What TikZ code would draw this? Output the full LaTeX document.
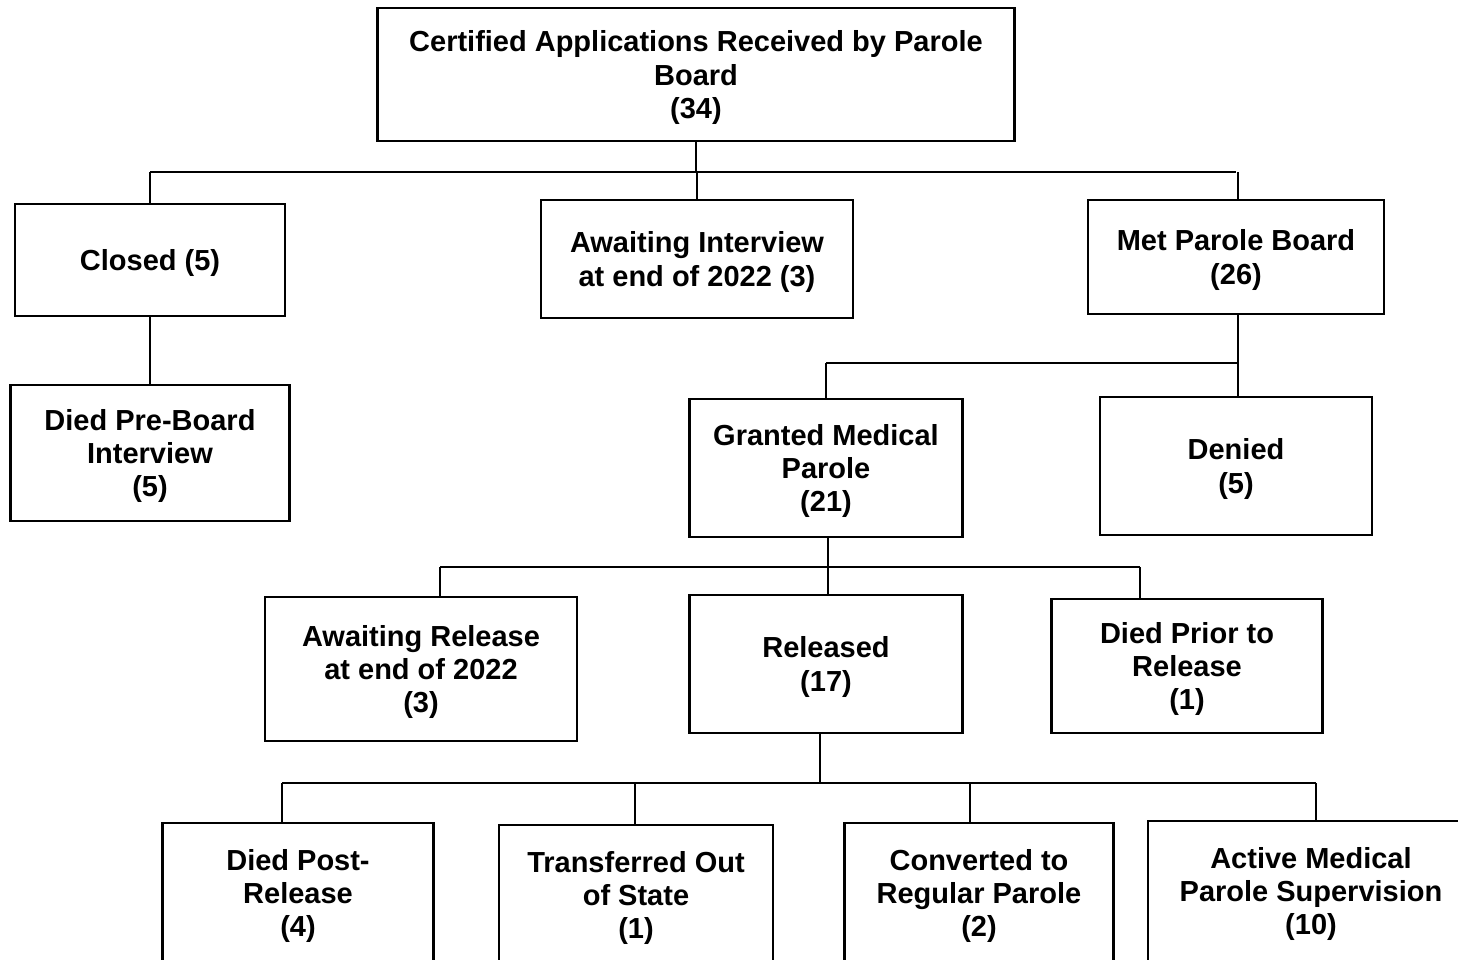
\documentclass[tikz,border=0pt]{standalone}
\usepackage{fontspec}
\setmainfont{Liberation Sans}
\usepackage{tikz}
\usetikzlibrary{positioning}

\tikzset{
	box/.style={draw, line width=1.4pt, align=center, inner sep=2pt, text depth=0pt,
		font=\fontsize{16.5}{18.8}\selectfont\bfseries},
	link/.style={line width=0.6pt}
}

\begin{document}
\begin{tikzpicture}[x=0.02cm, y=-0.02cm]
	\clip (0,0) rectangle (1458,960);
	\fill[white] (0,0) rectangle (1458,960);

	% first row
	\node[box, minimum width=637*0.02cm, minimum height=133*0.02cm] (cert) at (696,74.5) {Certified Applications Received by Parole\\Board\\(34)};
	\node[box, minimum width=270*0.02cm, minimum height=112*0.02cm] (closed) at (150,260) {Closed (5)};
	\node[box, minimum width=312*0.02cm, minimum height=118*0.02cm] (waitint) at (697,259) {Awaiting Interview\\at end of 2022 (3)};
	\node[box, minimum width=296*0.02cm, minimum height=114*0.02cm] (met) at (1236,257) {Met Parole Board\\(26)};

	% second row
	\node[box, minimum width=279*0.02cm, minimum height=136*0.02cm] (preboard) at (150,453) {Died Pre-Board\\Interview\\(5)};
	\node[box, minimum width=273*0.02cm, minimum height=138*0.02cm] (granted) at (826,468) {Granted Medical\\Parole\\(21)};
	\node[box, minimum width=272*0.02cm, minimum height=138*0.02cm] (denied) at (1236,466) {Denied\\(5)};

	% third row
	\node[box, minimum width=312*0.02cm, minimum height=144*0.02cm] (waitrel) at (421,669) {Awaiting Release\\at end of 2022\\(3)};
	\node[box, minimum width=273*0.02cm, minimum height=138*0.02cm] (released) at (826,664) {Released\\(17)};
	\node[box, minimum width=271*0.02cm, minimum height=134*0.02cm] (prior) at (1187,666) {Died Prior to\\Release\\(1)};

	% last row
	\node[box, minimum width=271*0.02cm, minimum height=140*0.02cm] (post) at (298,893) {Died Post-\\Release\\(4)};
	\node[box, minimum width=274*0.02cm, minimum height=140*0.02cm] (transfer) at (636,895) {Transferred Out\\of State\\(1)};
	\node[box, minimum width=269*0.02cm, minimum height=140*0.02cm] (convert) at (979,893) {Converted to\\Regular Parole\\(2)};
	\node[box, minimum width=326*0.02cm, minimum height=140*0.02cm] (active) at (1311,891) {Active Medical\\Parole Supervision\\(10)};

	% junctions
	\coordinate (barA) at (0,172);
	\coordinate (barB) at (0,363);
	\coordinate (barC) at (0,567);
	\coordinate (barD) at (0,783);

	\draw[link] (cert.south) -- (cert.south |- barA);
	\draw[link] (closed.north |- barA) -- (met.north |- barA);
	\draw[link] (closed.north |- barA) -- (closed.north);
	\draw[link] (waitint.north |- barA) -- (waitint.north);
	\draw[link] ([xshift=0.04cm]met.north |- barA) -- ([xshift=0.04cm]met.north);

	\draw[link] (closed.south) -- (preboard.north);

	\draw[link] ([xshift=0.04cm]met.south) -- ([xshift=0.04cm]denied.north);
	\draw[link] (granted.north |- barB) -- ([xshift=0.04cm]denied.north |- barB);
	\draw[link] (granted.north |- barB) -- (granted.north);

	\draw[link] ([xshift=0.04cm]granted.south) -- ([xshift=0.04cm]released.north);
	\draw[link] ([xshift=0.38cm]waitrel.north |- barC) -- ([xshift=-0.94cm]prior.north |- barC);
	\draw[link] ([xshift=0.38cm]waitrel.north |- barC) -- ([xshift=0.38cm]waitrel.north);
	\draw[link] ([xshift=-0.94cm]prior.north |- barC) -- ([xshift=-0.94cm]prior.north);

	\draw[link] ([xshift=-0.12cm]released.south) -- ([xshift=-0.12cm]released.south |- barD);
	\draw[link] ([xshift=-0.32cm]post.north |- barD) -- ([xshift=0.10cm]active.north |- barD);
	\draw[link] ([xshift=-0.32cm]post.north |- barD) -- ([xshift=-0.32cm]post.north);
	\draw[link] ([xshift=-0.02cm]transfer.north |- barD) -- ([xshift=-0.02cm]transfer.north);
	\draw[link] ([xshift=-0.18cm]convert.north |- barD) -- ([xshift=-0.18cm]convert.north);
	\draw[link] ([xshift=0.10cm]active.north |- barD) -- ([xshift=0.10cm]active.north);
\end{tikzpicture}
\end{document}
